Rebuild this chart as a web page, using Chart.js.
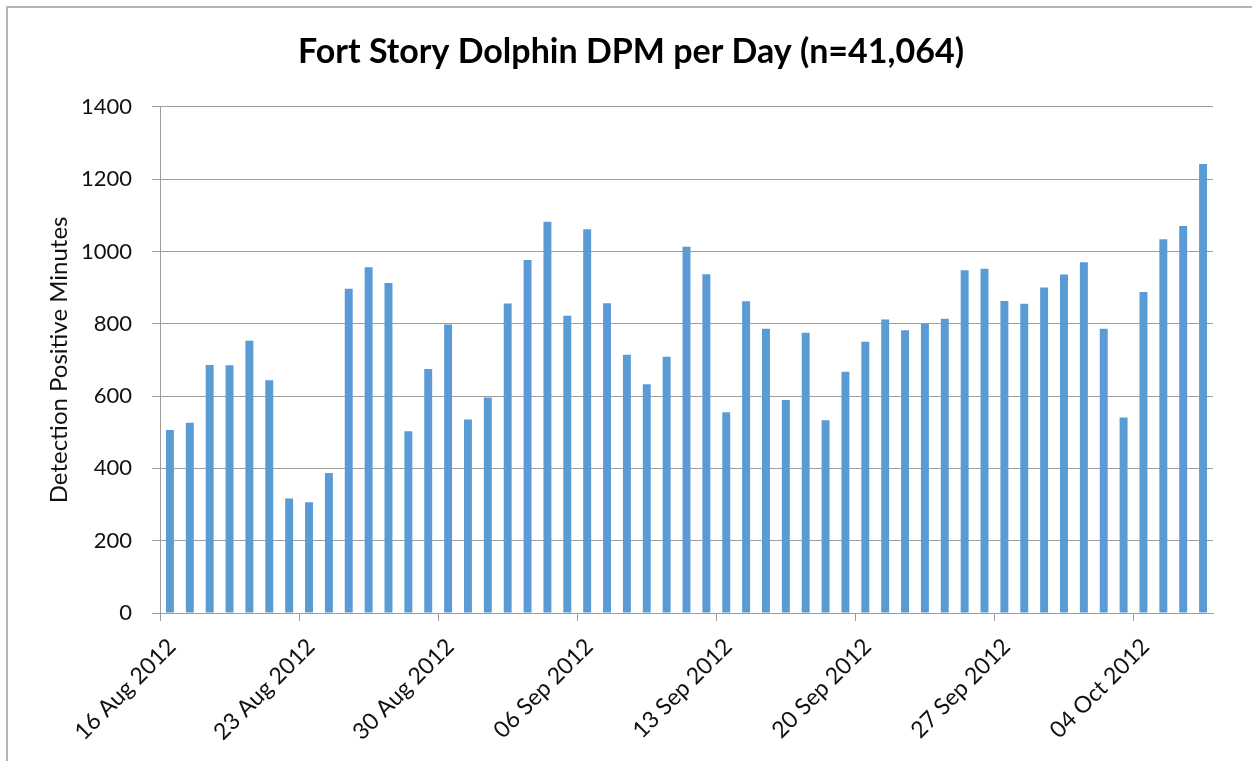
<!DOCTYPE html>
<html>
<head>
<meta charset="utf-8">
<title>Fort Story Dolphin DPM per Day</title>
<script src="https://cdn.jsdelivr.net/npm/chart.js@4.4.0/dist/chart.umd.min.js"></script>
<style>
    html, body { margin: 0; padding: 0; background: #fff; }
    #wrap { width: 1252px; height: 761px; }
</style>
</head>
<body>
<div id="wrap"><canvas id="dpmChart" width="1252" height="761"></canvas></div>
<script>
// Textes du graphique
const chartTitle = 'Fort Story Dolphin DPM per Day (n=41,064)';
const yAxisTitle = 'Detection Positive Minutes';

// Un jour par barre, du 16 août au 7 octobre 2012
const dayLabels = [
    '16 Aug 2012', '17 Aug 2012', '18 Aug 2012', '19 Aug 2012', '20 Aug 2012', '21 Aug 2012', '22 Aug 2012',
    '23 Aug 2012', '24 Aug 2012', '25 Aug 2012', '26 Aug 2012', '27 Aug 2012', '28 Aug 2012', '29 Aug 2012',
    '30 Aug 2012', '31 Aug 2012', '01 Sep 2012', '02 Sep 2012', '03 Sep 2012', '04 Sep 2012', '05 Sep 2012',
    '06 Sep 2012', '07 Sep 2012', '08 Sep 2012', '09 Sep 2012', '10 Sep 2012', '11 Sep 2012', '12 Sep 2012',
    '13 Sep 2012', '14 Sep 2012', '15 Sep 2012', '16 Sep 2012', '17 Sep 2012', '18 Sep 2012', '19 Sep 2012',
    '20 Sep 2012', '21 Sep 2012', '22 Sep 2012', '23 Sep 2012', '24 Sep 2012', '25 Sep 2012', '26 Sep 2012',
    '27 Sep 2012', '28 Sep 2012', '29 Sep 2012', '30 Sep 2012', '01 Oct 2012', '02 Oct 2012', '03 Oct 2012',
    '04 Oct 2012', '05 Oct 2012', '06 Oct 2012', '07 Oct 2012'
];

// Minutes positives par jour
const dpmValues = [
    506, 526, 686, 685, 753, 644, 317,
    306, 387, 897, 956, 913, 503, 675,
    798, 535, 596, 856, 976, 1082, 822,
    1061, 857, 714, 633, 709, 1013, 937,
    555, 862, 786, 589, 775, 533, 667,
    750, 812, 782, 800, 814, 948, 952,
    863, 855, 900, 936, 970, 786, 541,
    888, 1034, 1070, 1242
];

// Axe Y
const yMin = 0;
const yMax = 1400;
const yStep = 200;

// Une étiquette de date par semaine
const labelEvery = 7;

const gridGray = '#9e9e9e';
const textColor = '#111111';

Chart.defaults.font.family = 'Lato, "Open Sans", sans-serif';
Chart.defaults.color = textColor;

// Cadre gris autour du graphique + titre centré sur toute la largeur
const framePlugin = {
    id: 'frame',
    afterLayout(chart) {
        if (chart.titleBlock) {
            chart.titleBlock.left = 10;
            chart.titleBlock.right = chart.width;
        }
    },
    beforeDraw(chart) {
        const ctx = chart.ctx;
        ctx.save();
        ctx.fillStyle = '#ffffff';
        ctx.fillRect(0, 0, chart.width, chart.height);
        ctx.strokeStyle = '#b4b4b4';
        ctx.lineWidth = 2;
        ctx.strokeRect(7, 7, chart.width + 20, chart.height + 20);
        ctx.restore();
    }
};

const ctx = document.getElementById('dpmChart').getContext('2d');

new Chart(ctx, {
    type: 'bar',
    data: {
        labels: dayLabels,
        datasets: [{
            label: 'DPM',
            data: dpmValues,
            backgroundColor: '#5b9bd5',
            borderWidth: 0,
            categoryPercentage: 1,
            barPercentage: 0.4
        }]
    },
    options: {
        responsive: false,
        animation: false,
        devicePixelRatio: 1,
        layout: { padding: { left: 0, right: 39, top: 0, bottom: 0 } },
        plugins: {
            legend: { display: false },
            tooltip: { enabled: false },
            title: {
                display: true,
                text: chartTitle,
                color: '#000000',
                font: { size: 34, weight: 'bold' },
                padding: { top: 32, bottom: 34 }
            }
        },
        scales: {
            x: {
                type: 'category',
                grid: {
                    display: true,
                    offset: true,
                    drawOnChartArea: false,
                    drawTicks: true,
                    tickLength: 8,
                    color: (c) => (c.index % labelEvery === 0 ? gridGray : 'rgba(0,0,0,0)')
                },
                border: { display: true, color: gridGray, width: 1 },
                ticks: {
                    autoSkip: false,
                    maxRotation: 45,
                    minRotation: 45,
                    labelOffset: 2,
                    padding: 12,
                    font: { size: 23 },
                    callback: function(value, index) {
                        return index % labelEvery === 0 ? this.getLabelForValue(value) : '';
                    }
                },
                afterFit: (scale) => { scale.height = 148; }
            },
            y: {
                min: yMin,
                max: yMax,
                grid: {
                    color: gridGray,
                    tickLength: 8
                },
                border: { display: true, color: gridGray, width: 1 },
                ticks: {
                    stepSize: yStep,
                    padding: 20,
                    font: { size: 22 },
                    callback: (value) => String(value)
                },
                title: {
                    display: true,
                    text: yAxisTitle,
                    font: { size: 24 },
                    padding: { top: 45, bottom: 0 }
                },
                afterFit: (scale) => { scale.width = 160; }
            }
        }
    },
    plugins: [framePlugin]
});
</script>
</body>
</html>
